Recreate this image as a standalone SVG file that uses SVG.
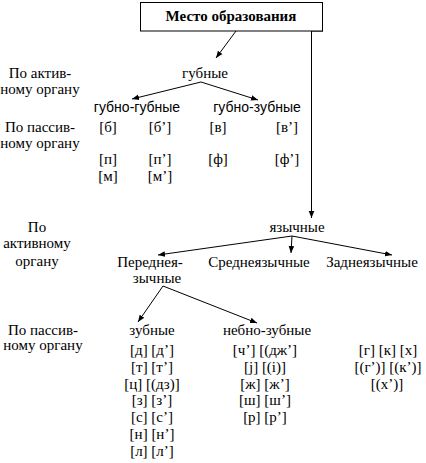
<svg xmlns="http://www.w3.org/2000/svg" width="426" height="463" viewBox="0 0 426 463">
<style>
text{font-family:"Liberation Serif","Times New Roman",serif;font-size:15px;fill:#000;text-anchor:middle}
.b{font-weight:bold}
.s{font-family:"Liberation Sans",Arial,sans-serif;font-size:14px}
.ln{stroke:#000;stroke-width:1;fill:none}
</style>
<defs>
<marker id="ah" viewBox="0 0 10 10" refX="10" refY="5" markerWidth="7" markerHeight="7" orient="auto-start-reverse" markerUnits="userSpaceOnUse">
<path d="M0,1 L10,5 L0,9 z" fill="#000"/>
</marker>
</defs>
<rect width="426" height="463" fill="#fff"/>
<g id="connectors">
<line class="ln" x1="236" y1="31" x2="216" y2="58" marker-end="url(#ah)"/>
<polyline class="ln" points="323,31 311.5,31 311.5,218" marker-end="url(#ah)"/>
<line class="ln" x1="201" y1="82" x2="132" y2="99" marker-end="url(#ah)"/>
<line class="ln" x1="201" y1="82" x2="258" y2="100" marker-end="url(#ah)"/>
<line class="ln" x1="292" y1="236" x2="158" y2="255" marker-end="url(#ah)"/>
<line class="ln" x1="292" y1="236" x2="291" y2="253" marker-end="url(#ah)"/>
<line class="ln" x1="292" y1="236" x2="392" y2="255" marker-end="url(#ah)"/>
<line class="ln" x1="163" y1="286" x2="138" y2="322" marker-end="url(#ah)"/>
<line class="ln" x1="163" y1="286" x2="257" y2="323" marker-end="url(#ah)"/>
</g>
<g id="root">
<rect x="140.5" y="2.5" width="182" height="28.5" fill="#fff" stroke="#000" stroke-width="1"/>
<text class="b" x="231" y="21">Место образования</text>
</g>
<g id="label-active1">
<text x="40" y="78">По актив-</text>
<text x="40" y="94">ному органу</text>
</g>
<g id="labial"><text x="205" y="78">губные</text></g>
<g id="labio-labial"><text class="s" x="137" y="112">губно-губные</text></g>
<g id="labio-dental"><text class="s" x="257" y="112">губно-зубные</text></g>
<g id="label-passive1">
<text x="40" y="132">По пассив-</text>
<text x="40" y="148">ному органу</text>
</g>
<g id="labial-sounds">
<text x="108" y="132">[б]</text>
<text x="160" y="132">[б’]</text>
<text x="218" y="132">[в]</text>
<text x="287" y="132">[в’]</text>
<text x="108" y="164">[п]</text>
<text x="160" y="164">[п’]</text>
<text x="218" y="164">[ф]</text>
<text x="287" y="164">[ф’]</text>
<text x="108" y="181">[м]</text>
<text x="160" y="181">[м’]</text>
</g>
<g id="label-active2">
<text x="37" y="232">По</text>
<text x="37" y="248">активному</text>
<text x="37" y="266">органу</text>
</g>
<g id="lingual"><text x="297" y="232">язычные</text></g>
<g id="front">
<text x="150" y="267">Переднея-</text>
<text x="157" y="283">зычные</text>
</g>
<g id="middle"><text x="259" y="267">Среднеязычные</text></g>
<g id="back"><text x="372" y="267">Заднеязычные</text></g>
<g id="label-passive2">
<text x="43" y="335">По пассив-</text>
<text x="43" y="350">ному органу</text>
</g>
<g id="dental">
<text x="152" y="335">зубные</text>
<text x="152" y="355">[д] [д’]</text>
<text x="152" y="372">[т] [т’]</text>
<text x="152" y="389">[ц] [(дз)]</text>
<text x="152" y="405">[з] [з’]</text>
<text x="152" y="422">[с] [с’]</text>
<text x="152" y="439">[н] [н’]</text>
<text x="152" y="456">[л] [л’]</text>
</g>
<g id="palato-dental">
<text x="267" y="335">небно-зубные</text>
<text x="265" y="355">[ч’] [(дж’]</text>
<text x="265" y="372">[j] [(i)]</text>
<text x="265" y="389">[ж] [ж’]</text>
<text x="265" y="405">[ш] [ш’]</text>
<text x="265" y="422">[р] [р’]</text>
</g>
<g id="velar-sounds">
<text x="388" y="355">[г] [к] [х]</text>
<text x="388" y="372">[(г’)] [(к’)]</text>
<text x="387" y="389">[(х’)]</text>
</g>
</svg>
